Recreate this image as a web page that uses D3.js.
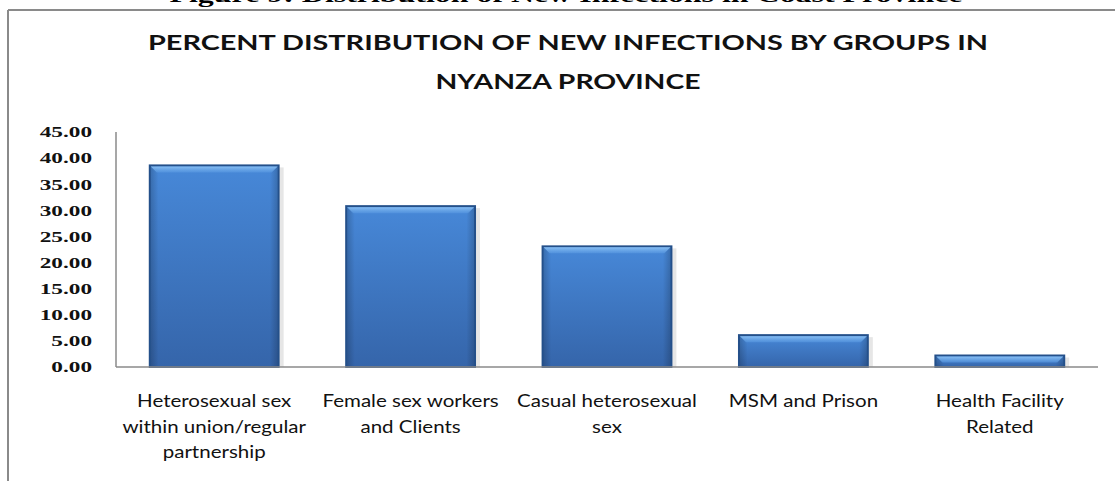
<!DOCTYPE html>
<html>
<head>
<meta charset="utf-8">
<script src="https://cdn.jsdelivr.net/npm/d3@7"></script>
<style>
  html, body { margin: 0; padding: 0; background: #fff; }
  svg { display: block; }
</style>
</head>
<body>
<svg id="chart" width="1115" height="481"></svg>
<script>
// ---- data ----
const categories = [
  ["Heterosexual sex", "within union/regular", "partnership"],
  ["Female sex workers", "and Clients"],
  ["Casual heterosexual", "sex"],
  ["MSM and Prison"],
  ["Health Facility", "Related"]
];
const values = [38.6, 30.8, 23.1, 6.1, 2.2];
const tickValues = [0, 5, 10, 15, 20, 25, 30, 35, 40, 45];
const headerText = "Figure 9: Distribution of New Infections in Coast Province";
const titleLines = ["PERCENT DISTRIBUTION OF NEW INFECTIONS BY GROUPS IN", "NYANZA PROVINCE"];

// ---- layout ----
const svg = d3.select("#chart");
const plot = { left: 116, right: 1098, top: 132, bottom: 367 };

const x = d3.scaleBand()
  .domain(d3.range(categories.length))
  .range([plot.left, plot.right])
  .paddingInner(0.344)
  .paddingOuter(0.172);

const y = d3.scaleLinear().domain([0, 45]).range([plot.bottom, plot.top]);

// defs: gradients
const defs = svg.append("defs");
const g1 = defs.append("linearGradient").attr("id", "barGrad").attr("x1", 0).attr("y1", 0).attr("x2", 0).attr("y2", 1);
g1.append("stop").attr("offset", "0%").attr("stop-color", "#4788d8");
g1.append("stop").attr("offset", "100%").attr("stop-color", "#3565aa");
const g2 = defs.append("linearGradient").attr("id", "sideGrad").attr("x1", 0).attr("y1", 0).attr("x2", 1).attr("y2", 0);
g2.append("stop").attr("offset", "0%").attr("stop-color", "#000").attr("stop-opacity", 0.18);
g2.append("stop").attr("offset", "6%").attr("stop-color", "#000").attr("stop-opacity", 0);
g2.append("stop").attr("offset", "94%").attr("stop-color", "#000").attr("stop-opacity", 0);
g2.append("stop").attr("offset", "100%").attr("stop-color", "#000").attr("stop-opacity", 0.18);
const g3 = defs.append("linearGradient").attr("id", "topGrad").attr("x1", 0).attr("y1", 0).attr("x2", 0).attr("y2", 1);
g3.append("stop").attr("offset", "0%").attr("stop-color", "#8cc2f5").attr("stop-opacity", 0.95);
g3.append("stop").attr("offset", "100%").attr("stop-color", "#5a9ae2").attr("stop-opacity", 0.6);

// frame
svg.append("line").attr("x1", 8).attr("x2", 1115).attr("y1", 10).attr("y2", 10)
  .attr("stroke", "#8a8a8a").attr("stroke-width", 2);
svg.append("line").attr("x1", 8).attr("x2", 8).attr("y1", 10).attr("y2", 481)
  .attr("stroke", "#8a8a8a").attr("stroke-width", 2);

// header (cut off at top, as in the reference scan)
svg.append("text")
  .attr("x", 566).attr("y", 2)
  .attr("text-anchor", "middle")
  .attr("font-family", "Liberation Serif, Times New Roman, serif")
  .attr("font-weight", "bold").attr("font-size", 22)
  .attr("fill", "#000")
  .attr("textLength", 793).attr("lengthAdjust", "spacingAndGlyphs")
  .text(headerText);

// title
const titleY = [50, 89];
const titleW = [840, 265];
titleLines.forEach((t, i) => {
  svg.append("text")
    .attr("x", 568).attr("y", titleY[i])
    .attr("text-anchor", "middle")
    .attr("font-family", "Lato, Open Sans, sans-serif")
    .attr("font-weight", "bold").attr("font-size", 20)
    .attr("fill", "#111")
    .attr("textLength", titleW[i]).attr("lengthAdjust", "spacingAndGlyphs")
    .text(t);
});

// axis line
svg.append("line").attr("x1", plot.left).attr("x2", plot.left)
  .attr("y1", y(45)).attr("y2", y(0)).attr("stroke", "#8a8a8a").attr("stroke-width", 1.5);

// y tick labels via axis
const yAxis = d3.axisLeft(y).tickValues(tickValues).tickFormat(d3.format(".2f")).tickSize(0).tickPadding(0);
const ya = svg.append("g").attr("transform", "translate(92,0)").call(yAxis);
ya.select(".domain").remove();
ya.selectAll("text")
  .attr("font-family", "Liberation Serif, Times New Roman, serif")
  .attr("font-weight", "bold").attr("font-size", 15)
  .attr("fill", "#111");
ya.selectAll("text").each(function() {
  const w = this.getComputedTextLength();
  d3.select(this).attr("textLength", w * 1.55).attr("lengthAdjust", "spacingAndGlyphs");
});

// bars
const bars = svg.append("g");
values.forEach((v, i) => {
  const bx = x(i), bw = x.bandwidth(), by = y(v), bh = y(0) - y(v);
  bars.append("rect").attr("x", bx + bw).attr("y", by + 2).attr("width", 5).attr("height", bh - 2)
    .attr("fill", "#e6e6e6");
  bars.append("rect").attr("x", bx).attr("y", by).attr("width", bw).attr("height", bh)
    .attr("fill", "url(#barGrad)").attr("stroke", "#24508a").attr("stroke-width", 2);
  bars.append("rect").attr("x", bx + 1).attr("y", by + 1).attr("width", bw - 2).attr("height", bh - 2)
    .attr("fill", "url(#sideGrad)");
  const th = Math.min(6, Math.max(2, bh - 4));
  bars.append("path")
    .attr("d", `M${bx + 1},${by + 1} L${bx + bw - 1},${by + 1} L${bx + bw - 7},${by + 1 + th} L${bx + 7},${by + 1 + th} Z`)
    .attr("fill", "url(#topGrad)");
});

// baseline
svg.append("line").attr("x1", plot.left).attr("x2", plot.right)
  .attr("y1", y(0)).attr("y2", y(0)).attr("stroke", "#8a8a8a").attr("stroke-width", 1.5);

// category labels
const lab = svg.append("g");
categories.forEach((lines, i) => {
  const cx = x(i) + x.bandwidth() / 2;
  const t = lab.append("text")
    .attr("x", cx).attr("y", 407)
    .attr("text-anchor", "middle")
    .attr("font-family", "Lato, Noto Sans, sans-serif")
    .attr("font-size", 18)
    .attr("fill", "#111");
  lines.forEach((l, j) => {
    const ts = t.append("tspan").attr("x", cx).attr("y", 407 + j * 25.5).text(l);
    const w = ts.node().getComputedTextLength();
    ts.attr("textLength", w * 1.14).attr("lengthAdjust", "spacingAndGlyphs");
  });
});
</script>
</body>
</html>
